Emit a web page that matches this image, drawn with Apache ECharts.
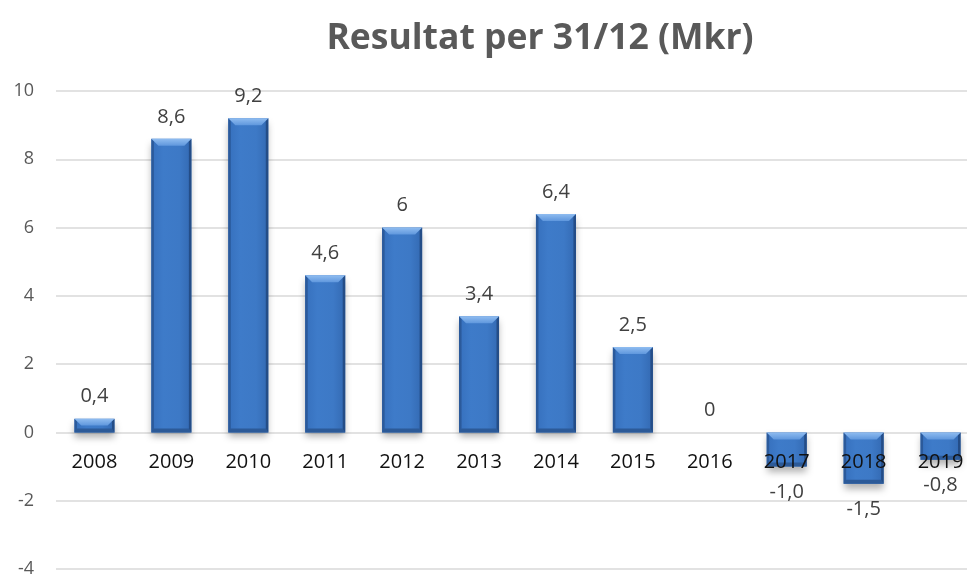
<!DOCTYPE html>
<html>
<head>
<meta charset="utf-8">
<script src="https://cdn.jsdelivr.net/npm/echarts@6/dist/echarts.min.js"></script>
<style>
    html, body { margin: 0; padding: 0; background: #fff; }
    #chart { width: 967px; height: 578px; }
</style>
</head>
<body>
<div id="chart"></div>
<script>
    //data
    var years = ['2008', '2009', '2010', '2011', '2012', '2013', '2014', '2015', '2016', '2017', '2018', '2019'];
    var result = [0.4, 8.6, 9.2, 4.6, 6, 3.4, 6.4, 2.5, 0, -1.0, -1.5, -0.8];
    var yTicks = [-4, -2, 0, 2, 4, 6, 8, 10];

    var font = '"Open Sans", sans-serif';
    var BAR_W = 40;

    function fmt(v) {
        var s = v < 0 ? v.toFixed(1) : String(v);
        return s.replace('.', ',');
    }

    var faceColor = new echarts.graphic.LinearGradient(0, 0, 1, 0, [
        { offset: 0, color: '#3670bd' },
        { offset: 0.3, color: '#3e7bc9' },
        { offset: 0.7, color: '#3d79c6' },
        { offset: 1, color: '#3369b2' }
    ]);
    var topColor = new echarts.graphic.LinearGradient(0, 0, 0, 1, [
        { offset: 0, color: '#8fbcf0' },
        { offset: 1, color: '#5f97dd' }
    ]);

    //bevel edges drawn over each bar
    function renderBevel(params, api) {
        var v = api.value(1);
        if (!v) return;
        var a = api.coord([api.value(0), 0]);
        var b = api.coord([api.value(0), v]);
        var l = a[0] - BAR_W / 2, r = a[0] + BAR_W / 2;
        var t = Math.min(a[1], b[1]), btm = Math.max(a[1], b[1]);
        var h = btm - t;
        var e = Math.min(7, h / 2);
        var s = Math.min(2.5, h / 2);
        var bb = Math.min(4, h / 3);
        return {
            type: 'group',
            children: [
                { type: 'polygon', shape: { points: [[l, t], [l + s, t + s], [l + s, btm - s], [l, btm]] }, style: { fill: '#2b5a9b' } },
                { type: 'polygon', shape: { points: [[r, t], [r - s, t + s], [r - s, btm - s], [r, btm]] }, style: { fill: '#244d87' } },
                { type: 'polygon', shape: { points: [[l, btm], [r, btm], [r - s, btm - bb], [l + s, btm - bb]] }, style: { fill: '#2c5a98' } },
                { type: 'polygon', shape: { points: [[l, t], [r, t], [r - e, t + e], [l + e, t + e]] }, style: { fill: topColor } }
            ]
        };
    }

    var myChart = echarts.init(document.getElementById('chart'));
    var option = {
        animation: false,
        title: {
            text: 'Resultat per 31/12 (Mkr)',
            left: 535,
            top: 16,
            textAlign: 'center',
            textStyle: {
                fontFamily: font,
                fontSize: 35.5,
                fontWeight: 'bold',
                color: '#595959'
            }
        },
        grid: {
            left: 56,
            right: -12,
            top: 91,
            bottom: 9,
            outerBoundsMode: 'none',
            containLabel: false
        },
        xAxis: {
            type: 'category',
            data: years,
            position: 'bottom',
            offset: -136.6,
            axisLine: { show: false, onZero: false },
            axisTick: { show: false },
            axisLabel: {
                margin: 20,
                fontFamily: font,
                fontSize: 20,
                color: '#111'
            },
            z: 10
        },
        yAxis: {
            type: 'value',
            min: yTicks[0],
            max: yTicks[yTicks.length - 1],
            interval: 2,
            axisLine: { show: false },
            axisTick: { show: false },
            axisLabel: {
                margin: 22,
                fontFamily: font,
                fontSize: 18,
                color: '#595959'
            },
            splitLine: { lineStyle: { color: '#d9d9d9', width: 1.5 } }
        },
        series: [{
            type: 'bar',
            data: result.map(function (v) {
                return {
                    value: v,
                    label: { position: v < 0 ? 'bottom' : 'top', distance: v < 0 ? 16 : 12 }
                };
            }),
            barWidth: BAR_W,
            itemStyle: {
                color: faceColor,
                shadowBlur: 7,
                shadowOffsetY: 5,
                shadowColor: 'rgba(0,0,0,0.3)'
            },
            label: {
                show: true,
                fontFamily: font,
                fontSize: 20,
                color: '#404040',
                formatter: function (p) {
                    return fmt(p.value);
                }
            }
        }, {
            type: 'custom',
            silent: true,
            renderItem: renderBevel,
            encode: { x: 0, y: 1 },
            data: result.map(function (v, i) { return [i, v]; }),
            z: 3
        }]
    };
    myChart.setOption(option);
</script>
</body>
</html>
